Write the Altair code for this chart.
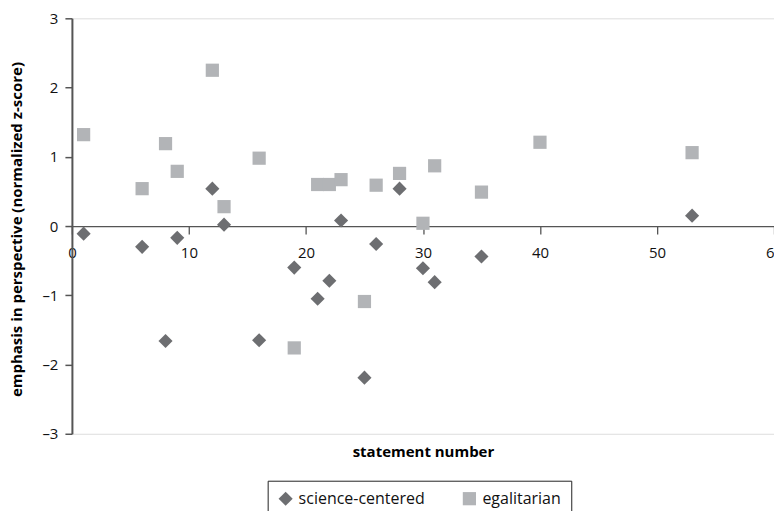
import altair as alt
import pandas as pd

series_names = ["science-centered", "egalitarian"]

sci_x = [1, 6, 8, 9, 12, 13, 16, 19, 21, 22, 23, 25, 26, 28, 30, 31, 35, 53]
sci_y = [-0.11, -0.30, -1.66, -0.17, 0.54, 0.02, -1.65, -0.60, -1.05, -0.79,
         0.08, -2.19, -0.26, 0.54, -0.61, -0.81, -0.44, 0.15]

ega_x = [1, 6, 8, 9, 12, 13, 16, 19, 21, 22, 23, 25, 26, 28, 30, 31, 35, 40, 53]
ega_y = [1.32, 0.54, 1.19, 0.79, 2.25, 0.28, 0.98, -1.76, 0.60, 0.60, 0.67,
         -1.09, 0.59, 0.76, 0.04, 0.87, 0.49, 1.21, 1.06]

x_ticks = [0, 10, 20, 30, 40, 50, 60]
y_ticks = [-3, -2, -1, 0, 1, 2, 3]

rows = []
for x, y in zip(sci_x, sci_y):
    rows.append({"statement": x, "z": y, "series": series_names[0]})
for x, y in zip(ega_x, ega_y):
    rows.append({"statement": x, "z": y, "series": series_names[1]})
df = pd.DataFrame(rows)

W, H = 703, 416
FONT = "Open Sans"

chart = alt.Chart(df).mark_point(filled=True, opacity=1, strokeWidth=0).encode(
    x=alt.X("statement:Q",
            scale=alt.Scale(domain=[0, 60], nice=False, zero=False),
            axis=alt.Axis(values=x_ticks, offset=-H / 2, grid=False,
                          title="statement number", titleFontSize=15,
                          titleFontWeight="bold", titleFont=FONT,
                          titleBaseline="middle", titleY=226,
                          labelFontSize=15, labelFont=FONT, labelColor="#111",
                          labelPadding=11, tickSize=8, tickColor="#555",
                          domainColor="#555", domainWidth=1.3, tickWidth=1.3,
                          labelFlush=False, labelOverlap=False)),
    y=alt.Y("z:Q",
            scale=alt.Scale(domain=[-3, 3], nice=False, zero=False),
            axis=alt.Axis(values=y_ticks, grid=False,
                          title="emphasis in perspective (normalized z-score)",
                          titleFontSize=15, titleFontWeight="bold", titleFont=FONT,
                          titleBaseline="middle", titleX=-55, titleY=211,
                          labelFontSize=15, labelFont=FONT, labelColor="#111",
                          labelPadding=7, tickSize=7, tickColor="#555",
                          domainColor="#555", domainWidth=2, tickWidth=1.5,
                          labelExpr="replace(datum.label, '−', '–')",
                          labelFlush=False, labelOverlap=False)),
    color=alt.Color("series:N",
                    scale=alt.Scale(domain=series_names, range=["#6d6e71", "#b2b4b7"]),
                    legend=alt.Legend(title=None, orient="none", legendX=196, legendY=463,
                                      direction="horizontal", strokeColor="#222",
                                      fillColor="white", padding=10,
                                      labelFontSize=16, labelFont=FONT,
                                      labelColor="#111", columnPadding=36,
                                      labelOffset=5)),
    shape=alt.Shape("series:N",
                    scale=alt.Scale(domain=series_names, range=["diamond", "square"])),
    size=alt.Size("series:N",
                  scale=alt.Scale(domain=series_names, range=[200, 175])),
    order=alt.Order("series:N", sort="descending"),
).properties(
    width=W, height=H,
    autosize=alt.AutoSizeParams(type="none"),
    padding={"left": 64, "top": 10, "right": 0, "bottom": 77},
).configure_view(stroke=None).configure(font=FONT)

chart.save("out.html", embed_options={"renderer": "svg", "actions": False})
